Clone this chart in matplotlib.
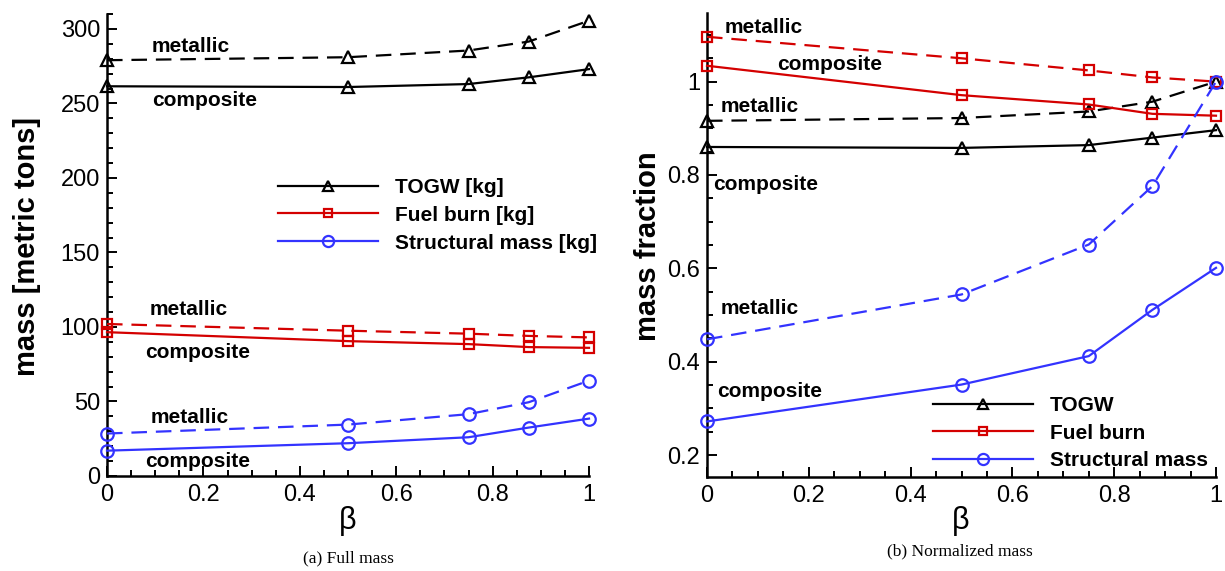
import matplotlib
matplotlib.use("Agg")
import matplotlib.pyplot as plt
from matplotlib.lines import Line2D
from matplotlib.ticker import MultipleLocator

plt.rcParams['font.family'] = ['Liberation Sans', 'DejaVu Sans']

# Design parameter
beta = [0.0, 0.5, 0.75, 0.875, 1.0]

# Full mass [metric tons]
togw_metallic = [279, 281, 285.5, 291.5, 305.5]
togw_composite = [261.5, 261, 263, 267.5, 273]
fuel_metallic = [102, 97.5, 95.5, 94, 93]
fuel_composite = [96.5, 90.5, 88.5, 86.5, 86]
struct_metallic = [28.5, 34.5, 41.5, 49.5, 64]
struct_composite = [17, 22, 26, 32.5, 38.5]

# Mass fraction (normalized by the metallic design at beta = 1)
togw_metallic_n = [0.916, 0.922, 0.936, 0.957, 1.0]
togw_composite_n = [0.860, 0.858, 0.864, 0.880, 0.896]
fuel_metallic_n = [1.096, 1.050, 1.024, 1.009, 1.0]
fuel_composite_n = [1.034, 0.971, 0.951, 0.931, 0.927]
struct_metallic_n = [0.448, 0.544, 0.651, 0.776, 1.0]
struct_composite_n = [0.272, 0.351, 0.412, 0.511, 0.601]

legend_full = ["TOGW [kg]", "Fuel burn [kg]", "Structural mass [kg]"]
legend_norm = ["TOGW", "Fuel burn", "Structural mass"]

BLACK = "#000000"
RED = "#d40000"
BLUE = "#3333ff"
DASH = (0, (7, 4))

W, H = 1225, 571
fig = plt.figure(figsize=(W / 100, H / 100), dpi=100)


def px_axes(x0, x1, ytop, ybot):
    return fig.add_axes([x0 / W, 1 - ybot / H, (x1 - x0) / W, (ybot - ytop) / H])


styles = [
    dict(color=BLACK, marker="^", ms=8),
    dict(color=RED, marker="s", ms=7),
    dict(color=BLUE, marker="o", ms=9),
]


def draw(ax, series):
    for (metal, comp), st in zip(series, styles):
        for vals, ls in ((metal, DASH), (comp, "-")):
            ax.plot(beta, vals, linestyle=ls, lw=1.6, color=st["color"],
                    marker=st["marker"], ms=st["ms"], mfc="none",
                    mec=st["color"], mew=1.6, clip_on=False, zorder=3)


def style_axes(ax, ymaj, ymin):
    for s in ("top", "right"):
        ax.spines[s].set_visible(False)
    for s in ("left", "bottom"):
        ax.spines[s].set_linewidth(1.8)
    ax.xaxis.set_major_locator(MultipleLocator(0.2))
    ax.xaxis.set_minor_locator(MultipleLocator(0.05))
    ax.yaxis.set_major_locator(MultipleLocator(ymaj))
    ax.yaxis.set_minor_locator(MultipleLocator(ymin))
    ax.tick_params(which="both", direction="in", width=1.4, labelsize=17)
    ax.tick_params(which="major", length=7)
    ax.tick_params(which="minor", length=4)
    ax.tick_params(axis="y", pad=5)
    ax.tick_params(axis="x", pad=6)


def legend(ax, labels, x, y):
    handles = [Line2D([], [], color=st["color"], lw=1.6, marker=st["marker"],
                      ms=st["ms"] - 1, mfc="none", mec=st["color"], mew=1.6)
               for st in styles]
    ax.legend(handles, labels, loc="upper left",
              bbox_to_anchor=(x / W, 1 - y / H), bbox_transform=fig.transFigure,
              frameon=False, borderpad=0, borderaxespad=0,
              handlelength=4.8, handletextpad=0.8, labelspacing=0.42,
              prop=dict(size=15, weight="bold"))


def label(ax, x, y, s):
    ax.text(x, y, s, fontsize=15, fontweight="bold", ha="left", va="center",
            zorder=4)


# (a) Full mass
ax1 = px_axes(107, 589, 14, 476)
draw(ax1, [(togw_metallic, togw_composite),
           (fuel_metallic, fuel_composite),
           (struct_metallic, struct_composite)])
ax1.set_xlim(0, 1)
ax1.set_ylim(0, 310)
style_axes(ax1, 50, 10)
ax1.set_xticks([0, 0.2, 0.4, 0.6, 0.8, 1.0])
ax1.set_xticklabels(["0", "0.2", "0.4", "0.6", "0.8", "1"])
legend(ax1, legend_full, 278, 178)
label(ax1, 0.093, 288.5, "metallic")
label(ax1, 0.093, 252, "composite")
label(ax1, 0.089, 111.5, "metallic")
label(ax1, 0.079, 83, "composite")
label(ax1, 0.091, 39, "metallic")
label(ax1, 0.079, 10, "composite")

# (b) Normalized mass
ax2 = px_axes(707, 1216, 13, 477)
draw(ax2, [(togw_metallic_n, togw_composite_n),
           (fuel_metallic_n, fuel_composite_n),
           (struct_metallic_n, struct_composite_n)])
ax2.set_xlim(0, 1)
ax2.set_ylim(0.153, 1.147)
style_axes(ax2, 0.2, 0.05)
ax2.set_xticks([0, 0.2, 0.4, 0.6, 0.8, 1.0])
ax2.set_xticklabels(["0", "0.2", "0.4", "0.6", "0.8", "1"])
ax2.set_yticks([0.2, 0.4, 0.6, 0.8, 1.0])
ax2.set_yticklabels(["0.2", "0.4", "0.6", "0.8", "1"])
legend(ax2, legend_norm, 933, 396)
label(ax2, 0.035, 1.117, "metallic")
label(ax2, 0.138, 1.036, "composite")
label(ax2, 0.0275, 0.946, "metallic")
label(ax2, 0.012, 0.779, "composite")
label(ax2, 0.0275, 0.515, "metallic")
label(ax2, 0.020, 0.337, "composite")

# Axis titles
fig.text(27 / W, 1 - 246 / H, "mass [metric tons]", rotation=90, fontsize=21,
         fontweight="bold", ha="center", va="center")
fig.text(648 / W, 1 - 246 / H, "mass fraction", rotation=90, fontsize=21,
         fontweight="bold", ha="center", va="center")
fig.text(348 / W, 1 - 521 / H, "β", fontsize=22, ha="center", va="center")
fig.text(961 / W, 1 - 521 / H, "β", fontsize=22, ha="center", va="center")

# Sub-captions
fig.text(348 / W, 1 - 558 / H, "(a) Full mass", fontsize=12.5,
         family="Liberation Serif", ha="center", va="center")
fig.text(960 / W, 1 - 551 / H, "(b) Normalized mass", fontsize=12.5,
         family="Liberation Serif", ha="center", va="center")

fig.savefig("out.png", dpi=100)
